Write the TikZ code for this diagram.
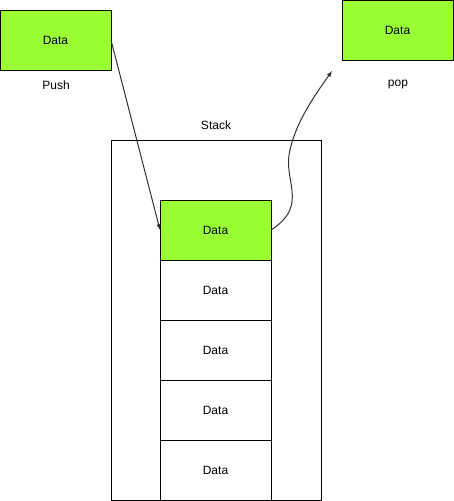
\documentclass[tikz,border=0pt]{standalone}
\usepackage{fontspec}
\setmainfont{Liberation Sans}
\usetikzlibrary{shapes,arrows,positioning}
\begin{document}
\begin{tikzpicture}[x=1pt,y=-1pt]
    % Define Styles
        \tikzstyle{block} = [rectangle, draw, fill=white, text centered, minimum height=60pt, minimum width=111pt, line width=1pt, inner sep=0pt, outer sep=0pt, font=\fontsize{12}{14}\selectfont]
        \tikzstyle{top} = [block, fill=datagreen]
        \tikzstyle{label} = [font=\fontsize{12}{14}\selectfont, inner sep=0pt]
        \tikzstyle{line} = [draw, -latex, line width=1pt, draw=black!80]
        \definecolor{datagreen}{RGB}{153,255,51}
        \useasboundingbox (0,0) rectangle (454,501);
    % Place nodes
        \node [top] (push) at (55.5,40) {Data};
        \node [top] (pop) at (397.5,30) {Data};
        \node [label] (pushlabel) at (56,85) {Push};
        \node [label] (poplabel) at (398,85) {pop};
        \node [block, minimum width=210pt, minimum height=360pt] (stack) at (216,320) {};
        \node [label] (stacklabel) at (216,125) {Stack};
        \node [top] (cell1) at (215.5,230) {Data};
        \node [block, below = 0pt of cell1] (cell2) {Data};
        \node [block, below = 0pt of cell2] (cell3) {Data};
        \node [block, below = 0pt of cell3] (cell4) {Data};
        \node [block, below = 0pt of cell4] (cell5) {Data};
        \coordinate (popend) at (332,71);
    % Edges
        \draw[line] (push.east) -- (cell1.west);
        \draw[line] (cell1.east) .. controls (310,205) and (282,180) .. (290,150) .. controls (296,122) and (315,95) .. (popend);
    \end{tikzpicture}
\end{document}
